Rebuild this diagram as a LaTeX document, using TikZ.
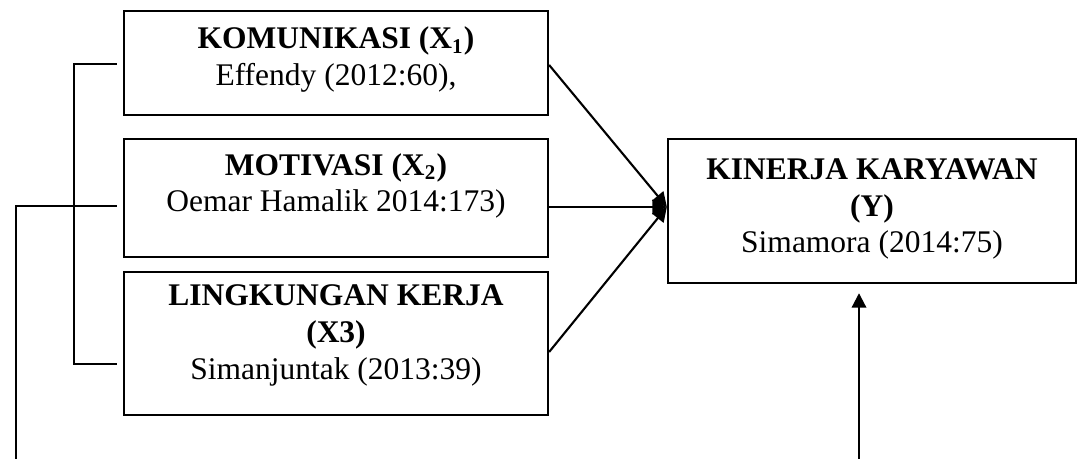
\documentclass[tikz,border=0pt]{standalone}
\usepackage{fontspec}
\setmainfont{Liberation Serif}
\usepackage{tikz}
\usetikzlibrary{arrows.meta,calc}

\newcommand{\isikotak}[4]{\parbox[c][#1][t]{#2}{\centering\vspace*{#3}#4}}

\tikzset{
  kotak/.style={draw,line width=0.9pt,inner sep=0pt,font=\fontsize{12}{14}\selectfont},
  garis/.style={line width=0.8pt},
  panah/.style={line width=0.8pt,-{Triangle[length=5.5pt,width=5.5pt]}}
}

\begin{document}
\begin{tikzpicture}[x=0.381pt,y=-0.381pt]
\useasboundingbox (0,0) rectangle (1083,459);

\node[kotak] (kom) at (336,63) {\isikotak{39.6pt}{161.5pt}{6pt}{\textbf{KOMUNIKASI (X\textsubscript{1})}\\ Effendy (2012:60),}};
\node[kotak] (mot) at (336,198) {\isikotak{45pt}{161.5pt}{5.5pt}{\textbf{MOTIVASI (X\textsubscript{2})}\\ Oemar Hamalik 2014:173)}};
\node[kotak] (ling) at (336,343.5) {\isikotak{54.5pt}{161.5pt}{5pt}{\textbf{LINGKUNGAN KERJA}\\ \textbf{(X3)}\\ Simanjuntak (2013:39)}};
\node[kotak] (kin) at (872,211) {\isikotak{54.9pt}{155.4pt}{7.5pt}{\textbf{KINERJA KARYAWAN}\\ \textbf{(Y)}\\ Simamora (2014:75)}};

\coordinate (masuk) at ($(kin.west)+(0,-4)$);
\coordinate (kiribawah) at (16,459);
\coordinate (kananbawah) at (859,459);

% panah ke kinerja
\draw[panah] ($(kom.east)+(0,2)$) -- (masuk);
\draw[panah] ($(mot.east)+(0,9)$) -- (masuk);
\draw[panah] ($(ling.east)+(0,8.5)$) -- (masuk);

% kurung kiri
\draw[garis] ($(kom.west)+(-6,1)$) -- ++(-43,0) |- ($(ling.west)+(-6,20.5)$);
\draw[garis] ($(mot.west)+(-6,8)$) -| (kiribawah);

\draw[panah] (kananbawah) -- ($(kin.south)+(-13,9)$);

\end{tikzpicture}
\end{document}
